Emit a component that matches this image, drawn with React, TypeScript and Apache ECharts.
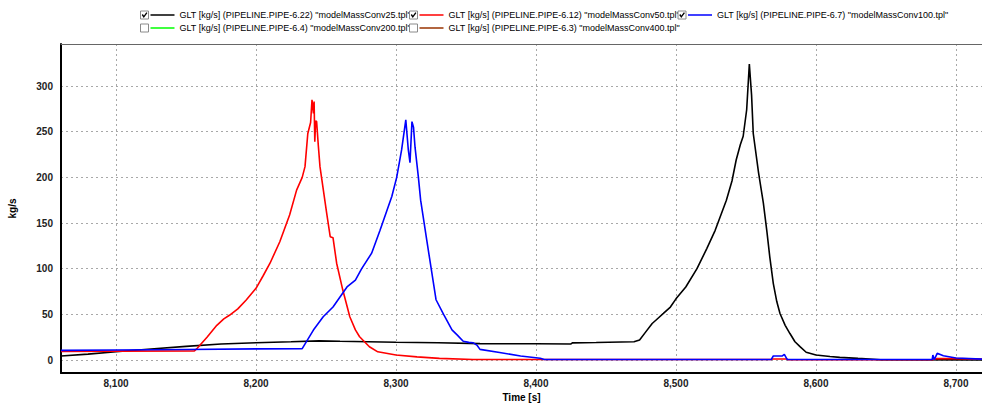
import React, { useEffect, useRef } from "react";
import * as echarts from "echarts";

// ---- Data ----
const conv25Time = [8060.7, 8080, 8100, 8125, 8150, 8175, 8200, 8225, 8245, 8260, 8280, 8300, 8330, 8360, 8400, 8425, 8426, 8443, 8470, 8474, 8478, 8483, 8487, 8491, 8496, 8500, 8507, 8515, 8522, 8528, 8536, 8540, 8543, 8546, 8548, 8550.5, 8552.4, 8554, 8555.2, 8559, 8562.4, 8565, 8567, 8569.5, 8572, 8574.3, 8578, 8581.4, 8585, 8588.6, 8593, 8600, 8610, 8617, 8630, 8641, 8646, 8718.6];
const conv25Flow = [4.4, 6.5, 9, 12, 15, 17.5, 19, 20, 21, 20.5, 20, 19.5, 19, 18, 17.8, 17.6, 18.8, 19.2, 20, 22, 30, 40, 45.5, 51, 58, 67, 80, 100, 122, 142, 175, 196, 219, 236, 245, 274, 324, 290, 248, 205, 172, 140, 113, 84, 64, 51, 38, 29, 20, 14.6, 8.5, 5.5, 3.8, 2.9, 1.8, 0.9, 0.3, 0.2];

const conv50Time = [8060.7, 8100, 8156, 8158, 8165, 8172, 8177, 8181, 8187, 8193, 8200, 8205, 8210, 8217, 8224, 8229, 8233, 8235, 8237, 8239, 8240, 8241, 8241.5, 8242, 8242.6, 8243.3, 8244.5, 8245.7, 8250.5, 8253, 8255, 8257.6, 8262, 8267, 8271, 8274, 8281, 8287, 8300, 8315, 8331, 8355, 8568, 8569, 8579, 8580, 8683, 8686, 8700, 8718.6];
const conv50Flow = [9.5, 9.8, 10, 12.8, 25, 38, 45, 49, 56, 65.7, 78.5, 92, 106, 129.5, 158.8, 186, 200, 211.7, 248, 260, 285, 270, 283, 239, 262, 261, 235, 211.7, 160.5, 135, 134, 106, 76.6, 47.4, 33, 25.5, 14.6, 9, 5.5, 3.5, 1.8, 0.5, 0.5, 1.2, 1.2, 0.3, 0.3, 1.5, 1.5, 1];

const conv100Time = [8060.7, 8100, 8150, 8200, 8233, 8241, 8248, 8255, 8260, 8265, 8271, 8275.5, 8282.6, 8288.6, 8297, 8300.5, 8304, 8307, 8308.8, 8310, 8311.4, 8312.5, 8313.6, 8316, 8317.6, 8322, 8328.6, 8334, 8340, 8344, 8348, 8352, 8355, 8358, 8360, 8374, 8389, 8403, 8406, 8568, 8569.5, 8576, 8577.4, 8579.5, 8683, 8683.5, 8684.5, 8686.6, 8691, 8700, 8718.6];
const conv100Flow = [10.6, 11, 11.5, 12.2, 12.5, 32.8, 47.4, 58, 69, 80, 87.6, 100, 117, 142, 179, 200, 230, 263, 230, 216, 261, 255, 233, 200, 175, 131, 66, 50, 33, 27, 20.5, 19.3, 19, 16, 11.7, 8.3, 4.4, 1.9, 0.5, 0.5, 4.4, 4.6, 6.2, 0.5, 0.5, 5.5, 0.5, 7.3, 4.7, 2.2, 1];

const legendNames = [
  'GLT [kg/s] (PIPELINE.PIPE-6.22) "modelMassConv25.tpl"',
  'GLT [kg/s] (PIPELINE.PIPE-6.12) "modelMassConv50.tpl"',
  'GLT [kg/s] (PIPELINE.PIPE-6.7) "modelMassConv100.tpl"',
  'GLT [kg/s] (PIPELINE.PIPE-6.4) "modelMassConv200.tpl"',
  'GLT [kg/s] (PIPELINE.PIPE-6.3) "modelMassConv400.tpl"',
];
const legendColors = ["#000000", "#ff0000", "#0000ff", "#00ff00", "#993300"];
const legendChecked = [true, true, true, false, false];

const yAxisName = "kg/s";
const xAxisName = "Time [s]";

const FONT = '"Liberation Sans", Arial, sans-serif';

function pairs(t: number[], v: number[]) {
  return t.map((x, i) => [x, v[i]]);
}

export default function App() {
  const ref = useRef<HTMLDivElement>(null);
  useEffect(() => {
    if (!ref.current) return;
    const chart = echarts.init(ref.current, undefined, { renderer: "svg" });

    const colX = [140.5, 409.5, 678];
    const rowY = [15, 28];
    const legendGraphics: any[] = [];
    legendNames.forEach((name, i) => {
      const col = i < 3 ? i : i - 3;
      const row = i < 3 ? 0 : 1;
      const x = colX[col];
      const y = rowY[row];
      legendGraphics.push({
        type: "rect",
        shape: { x: x, y: y - 4, width: 8, height: 8 },
        style: { fill: "#fff", stroke: "#8a8a8a", lineWidth: 1 },
      });
      if (legendChecked[i]) {
        legendGraphics.push({
          type: "polyline",
          shape: { points: [[x + 1.8, y - 0.5], [x + 3.3, y + 1.8], [x + 6.4, y - 2.4]] },
          style: { stroke: "#000", lineWidth: 1.4, fill: null },
        });
      }
      legendGraphics.push({
        type: "line",
        shape: { x1: x + 10, y1: y, x2: x + 34, y2: y },
        style: { stroke: legendColors[i], lineWidth: 1.5 },
      });
      legendGraphics.push({
        type: "text",
        x: x + 39,
        y: y,
        style: {
          text: name,
          fill: "#000",
          font: `9px ${FONT}`,
          verticalAlign: "middle",
          align: "left",
        },
      });
    });

    const labelStyle = {
      fontSize: 10,
      fontWeight: "bold" as const,
      color: "#222",
      fontFamily: FONT,
    };

    chart.setOption({
      animation: false,
      backgroundColor: "#fff",
      textStyle: { fontFamily: FONT },
      grid: {
        left: 61,
        top: 44,
        right: 0,
        bottom: 30,
        containLabel: false,
        outerBoundsMode: "none",
      },
      xAxis: [
        {
          type: "value",
          min: 8060.7,
          max: 8718.6,
          name: xAxisName,
          nameLocation: "middle",
          nameGap: 15,
          nameTextStyle: { ...labelStyle, color: "#000" },
          axisLine: { show: true, onZero: false, lineStyle: { color: "#000", width: 2 } },
          axisTick: { show: false },
          axisLabel: {
            ...labelStyle,
            margin: 5,
            showMinLabel: false,
            showMaxLabel: false,
            formatter: (v: number) => v.toLocaleString("en-US"),
          },
          splitLine: { show: true, lineStyle: { type: [2, 3], color: "#a8a8a8", width: 1 } },
        },
        {
          type: "value",
          position: "top",
          min: 8060.7,
          max: 8718.6,
          axisLine: { show: true, onZero: false, lineStyle: { color: "#666", width: 1 } },
          axisTick: { show: false },
          axisLabel: { show: false },
          splitLine: { show: false },
        },
      ],
      yAxis: {
        type: "value",
        min: -14.2,
        max: 346,
        splitNumber: 7,
        name: yAxisName,
        nameLocation: "middle",
        nameRotate: 90,
        nameGap: 44,
        nameTextStyle: { ...labelStyle, color: "#000" },
        axisLine: { show: true, onZero: false, lineStyle: { color: "#000", width: 2 } },
        axisTick: { show: false },
        axisLabel: { ...labelStyle, margin: 8, showMinLabel: false, showMaxLabel: false },
        splitLine: { show: true, lineStyle: { type: [2, 3], color: "#a8a8a8", width: 1 } },
      },
      graphic: legendGraphics,
      series: [
        {
          name: legendNames[0],
          type: "line",
          data: pairs(conv25Time, conv25Flow),
          showSymbol: false,
          lineStyle: { color: legendColors[0], width: 1.6 },
          itemStyle: { color: legendColors[0] },
          z: 2,
        },
        {
          name: legendNames[1],
          type: "line",
          data: pairs(conv50Time, conv50Flow),
          showSymbol: false,
          lineStyle: { color: legendColors[1], width: 1.6 },
          itemStyle: { color: legendColors[1] },
          z: 3,
        },
        {
          name: legendNames[2],
          type: "line",
          data: pairs(conv100Time, conv100Flow),
          showSymbol: false,
          lineStyle: { color: legendColors[2], width: 1.6 },
          itemStyle: { color: legendColors[2] },
          z: 4,
        },
      ],
    });
    return () => chart.dispose();
  }, []);
  return (
    <div
      ref={ref}
      style={{ position: "absolute", left: 0, top: 0, width: 982, height: 403, background: "#fff" }}
    />
  );
}
